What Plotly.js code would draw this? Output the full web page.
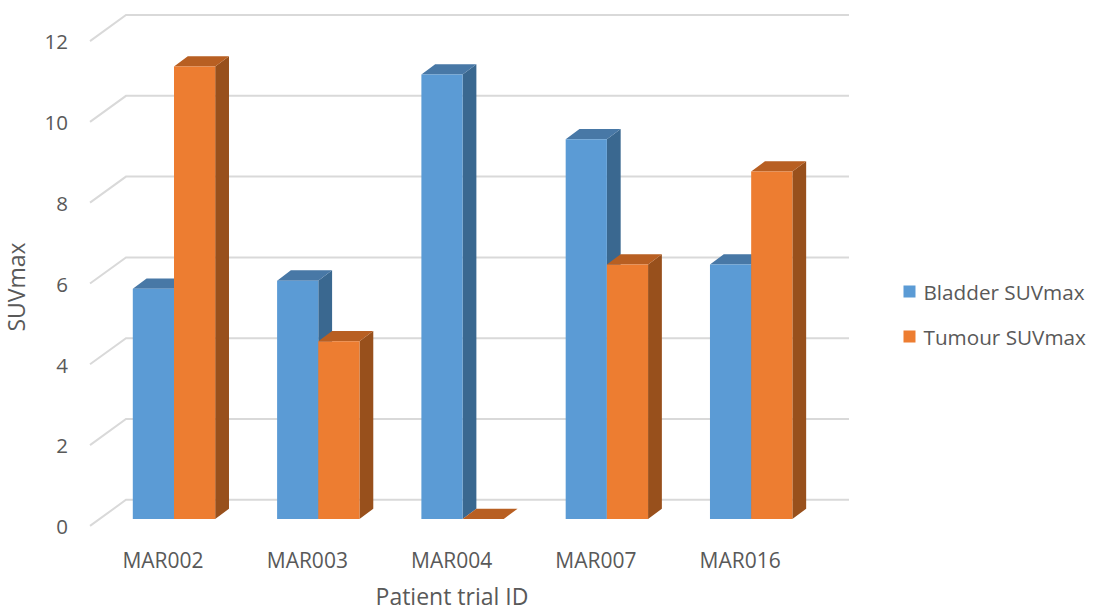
<!DOCTYPE html>
<html>
<head>
<meta charset="utf-8">
<script src="https://cdn.plot.ly/plotly-3.0.1.min.js"></script>
<style>html,body{margin:0;padding:0;background:#fff}</style>
</head>
<body>
<div id="chart" style="width:1095px;height:612px"></div>
<script>
// SUVmax per patient
const patients = ['MAR002', 'MAR003', 'MAR004', 'MAR007', 'MAR016'];
const bladderSUV = [5.7, 5.9, 11, 9.4, 6.3];
const tumourSUV = [11.2, 4.4, 0, 6.3, 8.6];
const yTicks = [0, 2, 4, 6, 8, 10, 12];

// Pseudo-3D projection, in axis units
const barWidth = 0.2855;
const depthX = 0.0956;
const depthY = 0.255;
const wallLeft = -0.582;
const wallBack = -0.3326;
const wallRight = 4.678;
const wallFrontShift = -0.17;
const wallBackShift = 0.475;
const labelShiftX = -0.076;
const labelShiftY = -0.2;

const positions = patients.map((_, i) => i);

// Builds a polygon trace from a list of closed outlines
function faceTrace(color, outlines) {
  const xs = [], ys = [];
  outlines.forEach(o => {
    o.forEach(p => { xs.push(p[0]); ys.push(p[1]); });
    xs.push(o[0][0], null);
    ys.push(o[0][1], null);
  });
  return {
    type: 'scatter', mode: 'lines', x: xs, y: ys, fill: 'toself',
    fillcolor: color, line: {width: 0, color: color},
    showlegend: false, hoverinfo: 'skip', xaxis: 'x', yaxis: 'y'
  };
}
const sideFace = (left, v) => [
  [left + barWidth, 0], [left + barWidth + depthX, depthY],
  [left + barWidth + depthX, v + depthY], [left + barWidth, v]
];
const topFace = (left, v) => [
  [left, v], [left + barWidth, v],
  [left + barWidth + depthX, v + depthY], [left + depthX, v + depthY]
];

// Back wall and side wall grid
const gridX = [], gridY = [];
yTicks.forEach(v => {
  gridX.push(wallLeft, wallBack, wallRight, null);
  gridY.push(v + wallFrontShift, v + wallBackShift, v + wallBackShift, null);
});

const traces = [
  {type: 'scatter', mode: 'lines', x: gridX, y: gridY,
   line: {color: '#D9D9D9', width: 2}, showlegend: false, hoverinfo: 'skip',
   xaxis: 'x', yaxis: 'y', cliponaxis: false},
  faceTrace('#3A6890', bladderSUV.map((v, i) => sideFace(i - barWidth, v))),
  faceTrace('#4878A6', bladderSUV.map((v, i) => topFace(i - barWidth, v))),
  faceTrace('#98501C', tumourSUV.map((v, i) => sideFace(i, v))),
  faceTrace('#B85F22', tumourSUV.map((v, i) => topFace(i, v))),
  {type: 'bar', name: 'Bladder SUVmax', x: positions, y: bladderSUV,
   width: barWidth, offset: -barWidth, marker: {color: '#5B9BD5'},
   xaxis: 'x', yaxis: 'y2', legendgroup: 'bladder'},
  {type: 'bar', name: 'Tumour SUVmax', x: positions, y: tumourSUV,
   width: barWidth, offset: 0, marker: {color: '#ED7D31'},
   xaxis: 'x', yaxis: 'y2', legendgroup: 'tumour'}
];

const textColor = '#595959';
const fontFamily = '"Open Sans", sans-serif';
const tickFontY = {family: fontFamily, size: 20.5, color: textColor};
const tickFontX = {family: fontFamily, size: 21, color: textColor};
const titleFont = {family: fontFamily, size: 23, color: textColor};
const legendFont = {family: fontFamily, size: 20.7, color: textColor};
const yRange = [-1.2376, 12.723];

const layout = {
  width: 1095, height: 612,
  margin: {l: 55, r: 246, t: 5, b: 43, autoexpand: false},
  paper_bgcolor: '#ffffff', plot_bgcolor: 'rgba(0,0,0,0)',
  barmode: 'overlay',
  font: legendFont,
  showlegend: true,
  legend: {x: 1.051, y: 0.452, yanchor: 'middle', xanchor: 'left',
           font: legendFont, traceorder: 'grouped', tracegroupgap: 15,
           bgcolor: 'rgba(0,0,0,0)'},
  xaxis: {
    range: [-0.8247, wallRight], anchor: 'free', position: 0.0603,
    tickmode: 'array', tickvals: positions.map(p => p + labelShiftX), ticktext: patients,
    ticks: 'outside', ticklen: 7, tickcolor: 'rgba(0,0,0,0)',
    showgrid: false, zeroline: false, showline: false,
    tickfont: tickFontX,
    title: {text: 'Patient trial ID', font: titleFont, standoff: 16}
  },
  yaxis: {
    range: yRange, anchor: 'free', position: 0.0315,
    tickmode: 'array', tickvals: yTicks.map(v => v + labelShiftY), ticktext: yTicks.map(String),
    ticks: 'outside', ticklen: 8, tickcolor: 'rgba(0,0,0,0)',
    showgrid: false, zeroline: false, showline: false,
    tickfont: tickFontY,
    title: {text: 'SUVmax', font: titleFont, standoff: 11}
  },
  yaxis2: {range: yRange, overlaying: 'y', visible: false}
};

Plotly.newPlot('chart', traces, layout, {displayModeBar: false, staticPlot: true}).then(() => {
  // Tighten the gap between legend swatches and their labels
  document.querySelectorAll('.legend .legendtext').forEach(t => {
    t.setAttribute('x', parseFloat(t.getAttribute('x')) - 6);
  });
});
</script>
</body>
</html>
